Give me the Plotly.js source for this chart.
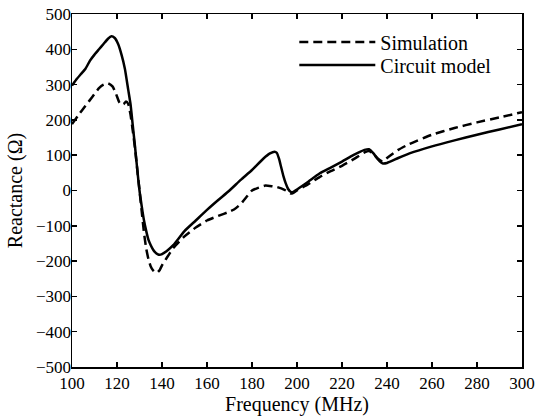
<!DOCTYPE html>
<html>
<head>
<meta charset="utf-8">
<script src="https://cdn.plot.ly/plotly-3.0.1.min.js"></script>
<style>html,body{margin:0;padding:0;background:#fff;}#chart{width:535px;height:420px;}</style>
</head>
<body>
<div id="chart"></div>
<script>
// Simulation (dashed)
const simFreq = [100,103,106,109,112,114,116,118,119.5,121,122,123,124,125,126,127,128,129,130,131,132,133,134,135,136,137,138,139,140,142,145,150,155,160,165,170,172,175,178,180,183,186,189,191,193,195,197,198,200,205,210,215,220,225,230,232,234,236,238,240,245,250,260,270,280,290,300];
const simReact = [188,215,240,265,290,300,304,295,275,250,242,245,252,245,215,170,120,60,0,-60,-120,-165,-195,-215,-226,-232,-232,-225,-212,-192,-163,-130,-105,-85,-72,-60,-54,-38,-15,0,8,14,12,10,6,0,-8,-8,0,18,38,55,70,88,108,112,103,90,82,92,115,132,158,177,193,207,222];
// Circuit model (solid)
const cirFreq = [100,102,104,106,108,110,112,114,116,117.5,119,120.5,122,123.5,125,126,127,128,129,130,131,132,133,134,135,136,137,138,139,140,142,145,150,155,160,165,170,175,180,185,188,190,191,192,193,194,195,196,197,198,200,205,210,215,220,225,230,232,234,236,238,240,245,250,260,270,280,290,300];
const cirReact = [297,315,330,345,368,385,400,415,430,437,432,415,385,345,285,245,185,125,60,0,-45,-85,-115,-140,-155,-167,-175,-180,-182,-180,-172,-155,-115,-85,-55,-27,0,30,58,90,105,110,107,90,65,40,20,5,-3,-5,3,25,48,65,82,100,115,117,105,88,77,78,92,105,125,142,158,173,188];
const seriesNames = ['Simulation', 'Circuit model'];
const xTickVals = [100,120,140,160,180,200,220,240,260,280,300];
const yTickVals = [-500,-400,-300,-200,-100,0,100,200,300,400,500];
const xTitle = 'Frequency (MHz)';
const yTitle = 'Reactance (\u03A9)';

const fontFam = '"Liberation Serif", "Times New Roman", serif';
const traces = [
  {x: simFreq, y: simReact, name: seriesNames[0], type: 'scatter', mode: 'lines', legend: 'legend',
   line: {color: '#000', width: 2.5, dash: '9px,5px', shape: 'spline', smoothing: 0.5}},
  {x: cirFreq, y: cirReact, name: seriesNames[1], type: 'scatter', mode: 'lines', legend: 'legend2',
   line: {color: '#000', width: 2.5, shape: 'spline', smoothing: 0.5}}
];
const axisCommon = {
  showline: true, linecolor: '#000', linewidth: 1.5, mirror: 'ticks',
  ticks: 'inside', ticklen: 5, tickwidth: 1.5, tickcolor: '#000',
  showgrid: false, zeroline: false,
  tickfont: {family: fontFam, size: 17, color: '#000'}
};
const legendCommon = {xanchor: 'left', yanchor: 'middle', bgcolor: 'rgba(0,0,0,0)',
  font: {family: fontFam, size: 20, color: '#000'}, itemwidth: 76};
const layout = {
  width: 535, height: 420,
  margin: {l: 72, r: 13, t: 14, b: 53},
  paper_bgcolor: '#fff', plot_bgcolor: '#fff',
  font: {family: fontFam, color: '#000'},
  xaxis: Object.assign({}, axisCommon, {range: [100, 300], tickvals: xTickVals,
    title: {text: xTitle, font: {family: fontFam, size: 20, color: '#000'}, standoff: 4}}),
  yaxis: Object.assign({}, axisCommon, {range: [-500, 500], tickvals: yTickVals, ticklabelstandoff: -4,
    title: {text: yTitle, font: {family: fontFam, size: 20, color: '#000'}, standoff: 8}}),
  showlegend: true,
  legend: Object.assign({}, legendCommon, {x: 0.494, y: 0.9207}),
  legend2: Object.assign({}, legendCommon, {x: 0.494, y: 0.8555})
};
Plotly.newPlot('chart', traces, layout, {displayModeBar: false, staticPlot: true});
</script>
</body>
</html>
